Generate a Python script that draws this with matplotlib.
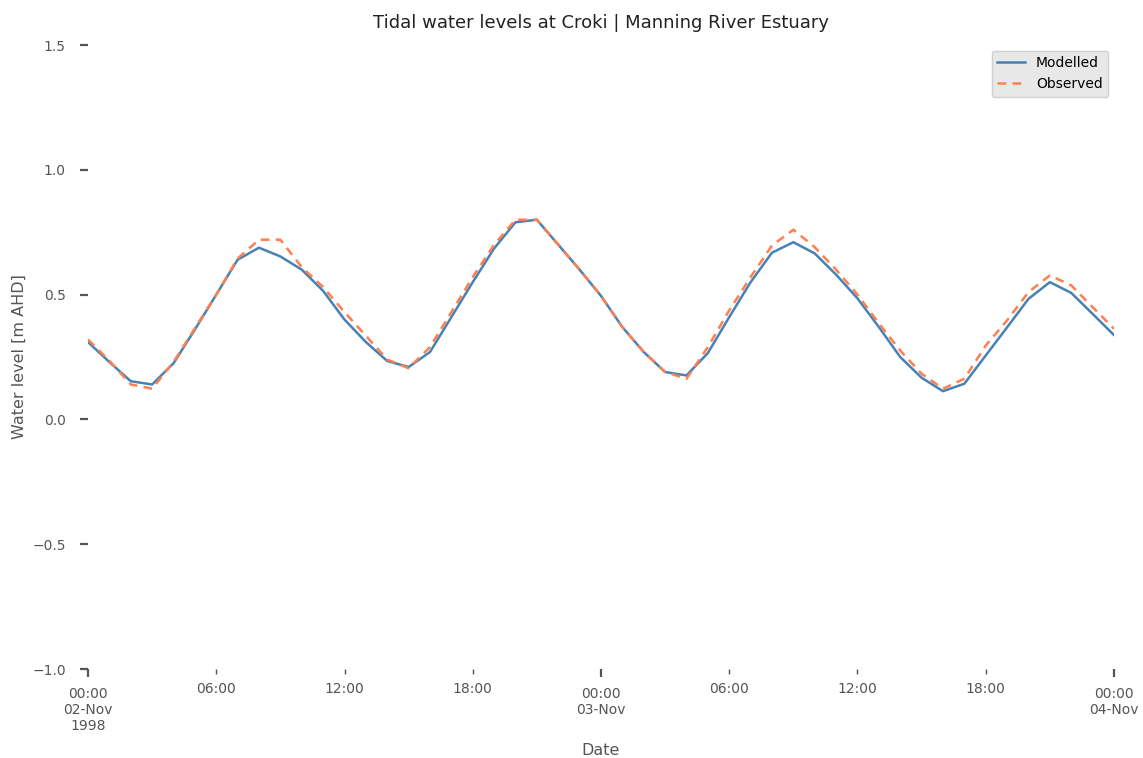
import matplotlib
matplotlib.use("Agg")
import matplotlib.pyplot as plt
import matplotlib.dates as mdates
import pandas as pd

# Hourly water levels, 02-Nov-1998 00:00 to 04-Nov-1998 00:00
times = pd.date_range("1998-11-02 00:00", "1998-11-04 00:00", freq="h")

modelled = [0.31, 0.23, 0.153, 0.14, 0.225, 0.36, 0.50, 0.64, 0.688, 0.653,
            0.60, 0.515, 0.40, 0.31, 0.234, 0.21, 0.27, 0.41, 0.55, 0.685,
            0.79, 0.80, 0.70, 0.60, 0.495, 0.37, 0.27, 0.19, 0.176, 0.266,
            0.41, 0.55, 0.668, 0.71, 0.665, 0.58, 0.485, 0.37, 0.25, 0.167,
            0.113, 0.143, 0.256, 0.369, 0.483, 0.55, 0.507, 0.423, 0.338]

observed = [0.32, 0.235, 0.14, 0.123, 0.23, 0.365, 0.50, 0.645, 0.72, 0.72,
            0.61, 0.53, 0.43, 0.335, 0.24, 0.205, 0.29, 0.43, 0.57, 0.70,
            0.80, 0.80, 0.70, 0.60, 0.495, 0.37, 0.27, 0.19, 0.163, 0.29,
            0.437, 0.57, 0.697, 0.76, 0.69, 0.60, 0.50, 0.385, 0.276, 0.183,
            0.123, 0.163, 0.296, 0.397, 0.51, 0.577, 0.537, 0.45, 0.363]

series_names = ["Modelled", "Observed"]
y_ticks = [-1.0, -0.5, 0.0, 0.5, 1.0, 1.5]

text_color = "#555555"

fig = plt.figure(figsize=(11.43, 7.58), dpi=100)
ax = fig.add_axes([0.077, 0.1174, 0.8976, 0.8232])

ax.plot(times, modelled, color="#4682B4", lw=1.8, label=series_names[0])
ax.plot(times, observed, color="#FF7F50", lw=1.8, ls=(0, (3.5, 2.5)),
        label=series_names[1])

ax.set_xlim(times[0], times[-1])
ax.set_ylim(-1.0, 1.5)
ax.set_yticks(y_ticks)

for s in ax.spines.values():
    s.set_visible(False)

# Day ticks (major) and 6-hourly ticks (minor)
ax.xaxis.set_major_locator(mdates.DayLocator())
ax.xaxis.set_minor_locator(mdates.HourLocator(byhour=[6, 12, 18]))


def major_fmt(x, pos=None):
    d = mdates.num2date(x)
    label = d.strftime("%H:%M\n%d-%b")
    if pos == 0:
        label += d.strftime("\n%Y")
    return label


ax.xaxis.set_major_formatter(plt.FuncFormatter(major_fmt))
ax.xaxis.set_minor_formatter(mdates.DateFormatter("%H:%M"))

ax.tick_params(axis="x", which="major", colors=text_color, labelsize=10,
               length=6, width=1.6, pad=7)
ax.tick_params(axis="x", which="minor", colors=text_color, labelsize=10,
               length=3.5, width=1.0, pad=6)
ax.tick_params(axis="y", which="major", colors=text_color, labelsize=10,
               length=6, width=1.6, pad=10)

ax.set_title("Tidal water levels at Croki | Manning River Estuary",
             fontsize=13, color="#222222", pad=12)
ax.set_ylabel("Water level [m AHD]", fontsize=11.5, color=text_color, labelpad=4)
ax.set_xlabel("Date", fontsize=11.5, color=text_color, labelpad=7)

leg = ax.legend(loc="upper right", fontsize=10, frameon=True, fancybox=True,
                borderaxespad=0.4)
leg.get_frame().set_facecolor("#e8e8e8")
leg.get_frame().set_edgecolor("#d0d0d0")
leg.get_frame().set_alpha(1.0)

fig.savefig("out.png", dpi=100, facecolor="white")
